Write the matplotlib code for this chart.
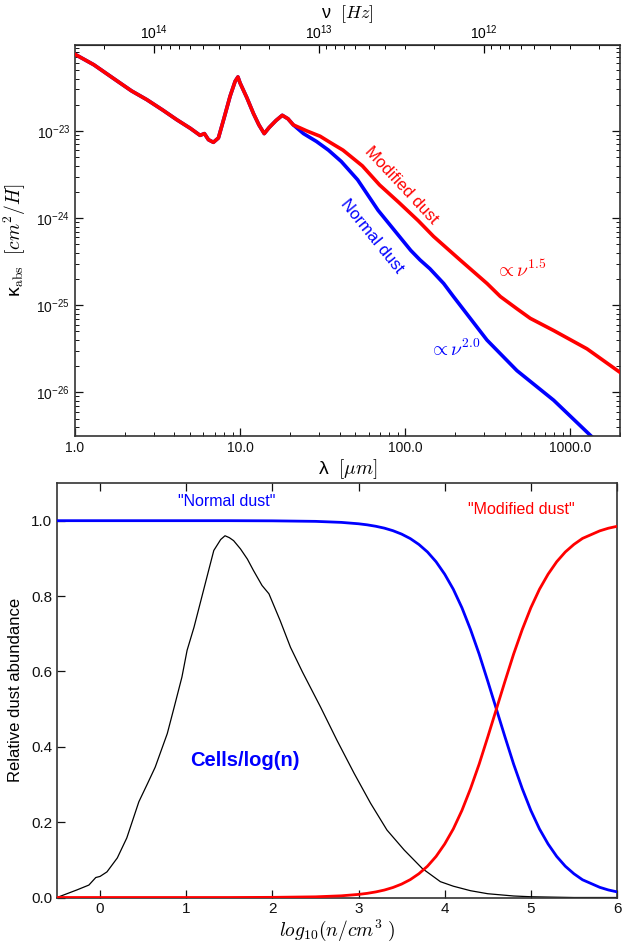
import numpy as np
import matplotlib
matplotlib.use("Agg")
import matplotlib.pyplot as plt
from matplotlib.ticker import LogLocator, FixedLocator, FuncFormatter, NullFormatter

plt.rcParams['font.family'] = ['Liberation Sans', 'DejaVu Sans']

# ---------------- top panel data (wavelength in micron, log10 kappa) -------------
lam_common = [1.0, 1.3, 1.75, 2.2, 2.72, 3.4, 4.13, 5.0, 5.72, 6.08, 6.43, 6.89, 7.39,
              8.0, 8.7, 9.33, 9.7, 10.0, 11.0, 12.05, 13.0, 14.0, 15.0, 16.5, 18.0,
              19.5, 21.0]
logk_common = [-22.12, -22.24, -22.41, -22.54, -22.64, -22.76, -22.87, -22.97, -23.05,
               -23.03, -23.10, -23.13, -23.08, -22.85, -22.60, -22.43, -22.38, -22.45,
               -22.62, -22.80, -22.93, -23.03, -22.96, -22.88, -22.82, -22.86, -22.93]

lam_mod = [25.4, 30.5, 35.0, 42.0, 55.0, 70.0, 91.5, 120.0, 148.5, 215.0, 313.0, 377.0,
           475.0, 572.0, 793.0, 1262.0, 2000.0]
logk_mod = [-23.00, -23.06, -23.13, -23.22, -23.40, -23.62, -23.82, -24.03, -24.21,
            -24.48, -24.75, -24.90, -25.04, -25.15, -25.29, -25.50, -25.77]

lam_norm = [24.2, 29.0, 34.3, 41.0, 51.5, 68.5, 108.0, 123.0, 141.0, 171.0, 196.0,
            313.0, 475.0, 793.0, 1352.0, 1700.0]
logk_norm = [-23.03, -23.12, -23.22, -23.35, -23.56, -23.91, -24.37, -24.48, -24.58,
             -24.75, -24.90, -25.40, -25.75, -26.09, -26.51, -26.72]

# ---------------- bottom panel data -----------------
logn_ab = [-0.5, 0.0, 0.5, 1.0, 1.5, 2.0, 2.5, 2.8, 3.0, 3.1, 3.2, 3.3, 3.4, 3.5, 3.6,
           3.7, 3.8, 3.9, 4.0, 4.1, 4.2, 4.3, 4.4, 4.5, 4.6, 4.7, 4.8, 4.9, 5.0, 5.1,
           5.2, 5.3, 5.4, 5.5, 5.6, 5.7, 5.8, 5.9, 6.0]
modified_ab = [0.0, 0.0, 0.0, 0.0, 0.0, 0.0004, 0.0018, 0.0045, 0.0082, 0.011, 0.0148,
               0.0198, 0.0266, 0.0356, 0.0474, 0.063, 0.083, 0.109, 0.142, 0.182,
               0.231, 0.289, 0.354, 0.426, 0.5, 0.574, 0.646, 0.711, 0.769, 0.818,
               0.858, 0.891, 0.917, 0.937, 0.953, 0.963, 0.973, 0.980, 0.985]
normal_ab = [1.0, 1.0, 1.0, 1.0, 1.0, 0.9996, 0.9982, 0.9955, 0.9918, 0.989, 0.9852,
             0.9802, 0.9734, 0.9644, 0.9526, 0.937, 0.917, 0.891, 0.858, 0.818,
             0.769, 0.711, 0.646, 0.574, 0.5, 0.426, 0.354, 0.289, 0.231, 0.182,
             0.142, 0.109, 0.083, 0.063, 0.047, 0.037, 0.027, 0.020, 0.015]

logn_cells = [-0.5, -0.27, -0.13, -0.05, 0.0, 0.08, 0.2, 0.31, 0.45, 0.55, 0.64, 0.78,
              0.86, 0.95, 1.01, 1.09, 1.17, 1.26, 1.32, 1.40, 1.45, 1.50, 1.55, 1.63,
              1.71, 1.78, 1.88, 1.96, 2.09, 2.21, 2.35, 2.56, 2.75, 2.95, 3.14, 3.33,
              3.53, 3.74, 3.95, 4.1, 4.3, 4.5, 4.8, 5.0, 5.5, 6.0]
cells = [0.0, 0.02, 0.033, 0.053, 0.056, 0.068, 0.105, 0.158, 0.254, 0.302, 0.346,
         0.435, 0.505, 0.585, 0.656, 0.717, 0.788, 0.868, 0.921, 0.950, 0.960, 0.955,
         0.947, 0.925, 0.898, 0.868, 0.828, 0.806, 0.735, 0.664, 0.598, 0.505, 0.417,
         0.329, 0.25, 0.179, 0.126, 0.077, 0.042, 0.03, 0.018, 0.01, 0.004, 0.002,
         0.0, 0.0]

C_UM = 2.998e14  # c in micron/s
W, H = 637.0, 942.0

fig = plt.figure(figsize=(6.37, 9.42), dpi=100)

def fx(px):
    return px / W

def fy(py):
    return 1 - py / H

# ================= TOP PANEL =================
ax1 = fig.add_axes([fx(75), fy(436), (620-75)/W, (436-45)/H])
lam_r = lam_common + lam_mod
k_r = 10**np.array(logk_common + logk_mod)
lam_b = lam_common + lam_norm
k_b = 10**np.array(logk_common + logk_norm)
ax1.plot(lam_b, k_b, color='#0000ff', lw=2.6, solid_joinstyle='round', zorder=2)
ax1.plot(lam_r, k_r, color='#ff0000', lw=2.6, solid_joinstyle='round', zorder=3)
ax1.set_xscale('log')
ax1.set_yscale('log')
ax1.set_xlim(1.0, 2000.0)
ax1.set_ylim(3.16e-27, 0.97e-22)
ax1.xaxis.set_major_locator(FixedLocator([1.0, 10.0, 100.0, 1000.0]))
ax1.xaxis.set_major_formatter(FuncFormatter(lambda v, p: f"{v:.1f}"))
ax1.xaxis.set_minor_locator(LogLocator(base=10, subs=np.arange(2, 10)))
ax1.xaxis.set_minor_formatter(NullFormatter())
ax1.yaxis.set_major_locator(LogLocator(base=10, numticks=10))
ax1.yaxis.set_minor_locator(LogLocator(base=10, subs=np.arange(2, 10), numticks=20))
ax1.yaxis.set_minor_formatter(NullFormatter())
ax1.tick_params(which='both', direction='in', right=True, labelsize=10, colors='#111111')
ax1.tick_params(axis='x', which='both', top=False)
ax1.tick_params(which='major', length=6, width=0.9)
ax1.tick_params(which='minor', length=3, width=0.7)
for s in ax1.spines.values():
    s.set_linewidth(1.2)
    s.set_color('#333333')
ax1.xaxis.offsetText.set_visible(False)
ax1.yaxis.offsetText.set_visible(False)

sec = ax1.secondary_xaxis('top', functions=(lambda l: C_UM / l, lambda n: C_UM / n))
sec.xaxis.set_major_locator(FixedLocator([1e12, 1e13, 1e14]))
sec.xaxis.set_minor_locator(LogLocator(base=10, subs=np.arange(2, 10), numticks=40))
sec.xaxis.set_minor_formatter(NullFormatter())
sec.tick_params(which='both', direction='in', labelsize=10, pad=2)
sec.tick_params(which='major', length=6, width=0.9)
sec.tick_params(which='minor', length=3, width=0.7)
sec.xaxis.offsetText.set_visible(False)
sec.set_xlabel(r'ν  $[Hz]$', fontsize=13, math_fontfamily='cm', labelpad=4)

ax1.set_xlabel(r'λ  $[\mu m]$', fontsize=14, math_fontfamily='cm', labelpad=2)
ax1.set_ylabel(r'κ$_{\rm abs}$  $[cm^2/H]$', fontsize=14, math_fontfamily='cm', labelpad=6)

fig.text(fx(401), fy(185), 'Modified dust', color='#ff0000', fontsize=12, rotation=-47,
         rotation_mode='anchor', ha='center', va='center')
fig.text(fx(372), fy(236), 'Normal dust', color='#0000ff', fontsize=12, rotation=-51,
         rotation_mode='anchor', ha='center', va='center')
fig.text(fx(521), fy(270), r'$\propto \nu^{1.5}$', color='#ff0000', fontsize=14,
         math_fontfamily='cm', ha='center', va='center')
fig.text(fx(455), fy(349), r'$\propto \nu^{2.0}$', color='#0000ff', fontsize=14,
         math_fontfamily='cm', ha='center', va='center')

# ================= BOTTOM PANEL =================
ax2 = fig.add_axes([fx(57), fy(897.5), (617-57)/W, (897.5-483)/H])
ax2.plot(logn_cells, cells, color='black', lw=0.9, zorder=2)
ax2.plot(logn_ab, normal_ab, color='#0000ff', lw=2.0, zorder=3)
ax2.plot(logn_ab, modified_ab, color='#ff0000', lw=2.0, zorder=3)
ax2.set_xlim(-0.5, 6.0)
ax2.set_ylim(0.0, 1.1)
ax2.set_xticks([0, 1, 2, 3, 4, 5, 6])
ax2.set_yticks([0.0, 0.2, 0.4, 0.6, 0.8, 1.0])
ax2.yaxis.set_major_formatter(FuncFormatter(lambda v, p: f"{v:.1f}"))
ax2.tick_params(direction='in', top=True, length=6, width=0.9, labelsize=11,
                colors='#111111')
for s in ax2.spines.values():
    s.set_linewidth(1.2)
    s.set_color('#333333')
ax2.set_xlabel(r'$log_{10}(n/cm^3\ )$', fontsize=14, math_fontfamily='cm', labelpad=1)
ax2.set_ylabel('Relative dust abundance', fontsize=12, labelpad=6)

fig.text(fx(227), fy(501), '"Normal dust"', color='#0000ff', fontsize=11.5,
         ha='center', va='center')
fig.text(fx(521), fy(510), '"Modified dust"', color='#ff0000', fontsize=11.5,
         ha='center', va='center')
fig.text(fx(245), fy(760), 'Cells/log(n)', color='#0000ff', fontsize=14.5,
         fontweight='bold', ha='center', va='center')

fig.savefig('out.png', dpi=100)
